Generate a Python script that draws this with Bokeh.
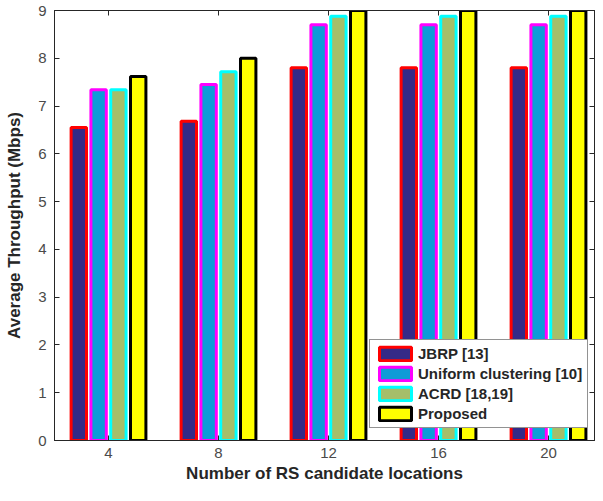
from bokeh.plotting import figure
from bokeh.models import Range1d, LinearAxis, Legend, LegendItem, ColumnDataSource, FixedTicker
from bokeh.transform import dodge
from bokeh.embed import file_html
from bokeh.resources import INLINE

categories = ["4", "8", "12", "16", "20"]
jbrp = [6.55, 6.68, 7.80, 7.80, 7.80]
uniform = [7.34, 7.45, 8.70, 8.70, 8.70]
acrd = [7.34, 7.72, 8.88, 8.88, 8.88]
proposed = [7.62, 8.00, 9.00, 9.00, 9.00]
series_names = ["JBRP [13]", "Uniform clustering [10]", "ACRD [18,19]", "Proposed"]
y_ticks = [0, 1, 2, 3, 4, 5, 6, 7, 8, 9]

xs = list(range(1, len(categories) + 1))
src = ColumnDataSource(dict(x=xs, jbrp=jbrp, uniform=uniform, acrd=acrd, proposed=proposed))

FONT = "Liberation Sans"
p = figure(width=595, height=485, x_range=Range1d(0.509, 5.418), y_range=Range1d(0, 9),
           output_backend="svg", toolbar_location=None,
           min_border_left=54, min_border_right=1, min_border_top=10, min_border_bottom=0)

bottom_ax = p.below[0]
left_ax = p.left[0]

fills = ["#352a87", "#0f9bd7", "#a5be6a", "#ffff00"]
lines = ["#ff0000", "#ff00ff", "#00ffff", "#000000"]
cols = ["jbrp", "uniform", "acrd", "proposed"]
offsets = [-0.27, -0.09, 0.09, 0.27]
renderers = []
for col, off, fc, lc in zip(cols, offsets, fills, lines):
    r = p.vbar(x=dodge("x", off), top=col, bottom=0, width=0.14, source=src,
               fill_color=fc, line_color=lc, line_width=3)
    renderers.append(r)

p.xgrid.visible = False
p.ygrid.visible = False
p.outline_line_color = "#262626"
p.outline_line_width = 1

top_ax = LinearAxis(ticker=FixedTicker(ticks=xs))
right_ax = LinearAxis(ticker=FixedTicker(ticks=y_ticks))
p.add_layout(top_ax, "above")
p.add_layout(right_ax, "right")

bottom_ax.ticker = FixedTicker(ticks=xs)
bottom_ax.major_label_overrides = {x: c for x, c in zip(xs, categories)}
left_ax.ticker = FixedTicker(ticks=y_ticks)

for ax in (bottom_ax, left_ax, top_ax, right_ax):
    ax.major_tick_in = 5
    ax.major_tick_out = 0
    ax.minor_tick_line_color = None
    ax.axis_line_color = "#262626"
    ax.major_tick_line_color = "#262626"
    ax.major_label_text_font = FONT
    ax.major_label_text_font_size = "15px"
    ax.major_label_text_color = "#4a4a4a"
    ax.axis_label_text_font = FONT
    ax.axis_label_text_font_size = "17px"
    ax.axis_label_text_font_style = "bold"
    ax.axis_label_text_color = "#262626"

for ax in (top_ax, right_ax):
    ax.major_label_text_font_size = "0px"
    ax.major_label_standoff = 0
    ax.major_label_text_alpha = 0

left_ax.axis_label = "Average Throughput (Mbps)"
bottom_ax.axis_label = "Number of RS candidate locations"
bottom_ax.major_label_standoff = 7
left_ax.major_label_standoff = 8
bottom_ax.axis_label_standoff = 3
left_ax.axis_label_standoff = 11

legend = Legend(items=[LegendItem(label=n, renderers=[r]) for n, r in zip(series_names, renderers)],
                location=(315, 12), orientation="vertical")
legend.label_text_font = FONT
legend.label_text_font_style = "bold"
legend.label_text_font_size = "15px"
legend.label_text_color = "#262626"
legend.glyph_width = 40
legend.glyph_height = 17
legend.label_height = 17
legend.spacing = 3
legend.padding = 5
legend.margin = 0
legend.label_standoff = 3
legend.border_line_color = "#262626"
legend.border_line_width = 1
legend.background_fill_alpha = 1
p.add_layout(legend, "center")

open("out.html", "w").write(file_html(p, INLINE))
